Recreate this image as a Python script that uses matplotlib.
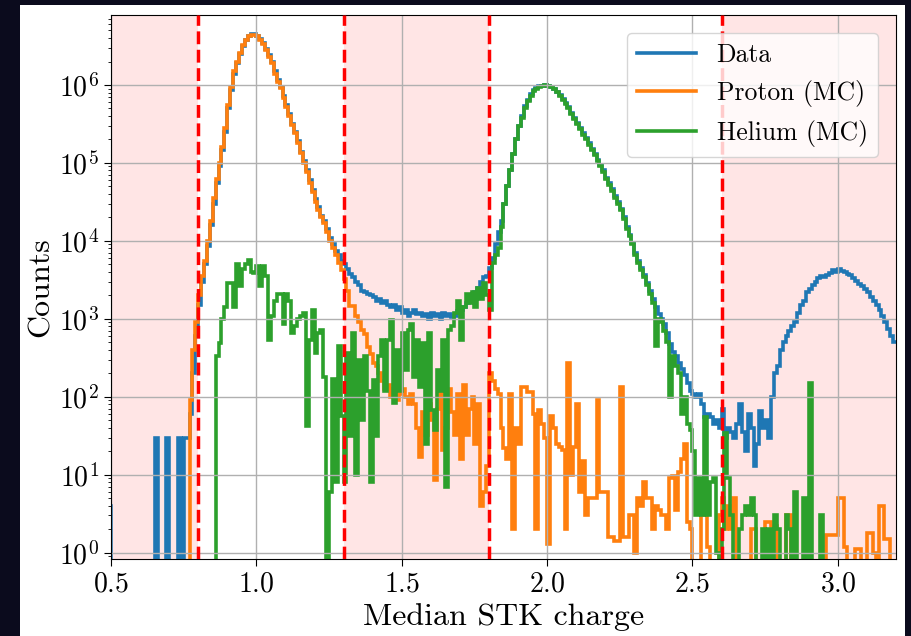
import numpy as np
import matplotlib
matplotlib.use("Agg")
import matplotlib.pyplot as plt
from matplotlib.patches import Rectangle
from matplotlib.ticker import MultipleLocator

plt.rcParams["font.family"] = "serif"
plt.rcParams["font.serif"] = ["cmr10"]
plt.rcParams["mathtext.fontset"] = "cm"
plt.rcParams["axes.formatter.use_mathtext"] = True
plt.rcParams["axes.unicode_minus"] = False

# histogram bins: width 0.01, first edge 0.49
bin_start = 0.49
bin_width = 0.01

# counts per bin, one row = 10 bins (row start edge in the comment)
data_counts = [4,                                                               # 0.49
    0, 0, 0, 0, 0, 0, 0, 0, 0, 0,                                               # 0.50
    0, 0, 0, 0, 0, 30, 0, 0, 0, 30,                                             # 0.60
    0, 0, 0, 30, 0, 30, 30, 60, 200, 600,                                       # 0.70
    1500, 3000, 5000, 8500, 1.6e4, 3.0e4, 5.5e4, 9e4, 1.45e5, 2.5e5,            # 0.80
    5e5, 8.5e5, 1.4e6, 1.9e6, 2.5e6, 3.2e6, 3.8e6, 4.2e6, 4.5e6, 4.5e6,         # 0.90
    4.3e6, 3.9e6, 3.5e6, 2.9e6, 2.4e6, 2.0e6, 1.5e6, 1.15e6, 9.5e5, 7.2e5,      # 1.00
    5.5e5, 4.2e5, 3.2e5, 2.5e5, 1.9e5, 1.4e5, 1.05e5, 8e4, 6e4, 4.5e4,          # 1.10
    3.4e4, 2.7e4, 2.1e4, 1.8e4, 1.4e4, 1.1e4, 9e3, 7.5e3, 6.5e3, 5.5e3,         # 1.20
    5e3, 4.3e3, 3.8e3, 3.4e3, 3.0e3, 2.7e3, 2.3e3, 2.2e3, 2.1e3, 2.0e3,         # 1.30
    1.9e3, 1.7e3, 1.8e3, 1.6e3, 1.7e3, 1.5e3, 1.4e3, 1.5e3, 1.3e3, 1.4e3,       # 1.40
    1.2e3, 1.3e3, 1.1e3, 1.2e3, 1.3e3, 1.15e3, 1.2e3, 1.1e3, 1.15e3, 1.0e3,     # 1.50
    1.2e3, 1.1e3, 1.15e3, 1.0e3, 1.2e3, 1.1e3, 1.15e3, 1.05e3, 1.1e3, 1.25e3,   # 1.60
    1.3e3, 1.4e3, 1.6e3, 1.8e3, 2.0e3, 2.2e3, 2.5e3, 3.0e3, 3.4e3, 3.5e3,       # 1.70
    4.5e3, 6e3, 9e3, 1.3e4, 1.8e4, 3e4, 5e4, 8e4, 1.3e5, 2e5,                   # 1.80
    3e5, 4e5, 5.3e5, 6.5e5, 7.6e5, 8.5e5, 9.2e5, 9.6e5, 9.8e5, 9.9e5,           # 1.90
    9.8e5, 9.5e5, 9e5, 8.2e5, 7.4e5, 6.6e5, 5.8e5, 5.2e5, 4.4e5, 3.8e5,         # 2.00
    3.3e5, 2.8e5, 2.4e5, 2.1e5, 1.8e5, 1.5e5, 1.3e5, 1.1e5, 9.5e4, 8e4,         # 2.10
    6.5e4, 5.5e4, 4.6e4, 3.8e4, 3.2e4, 2.6e4, 2.0e4, 1.5e4, 1.2e4, 9.5e3,       # 2.20
    7e3, 5.5e3, 4.5e3, 3.6e3, 2.9e3, 2.3e3, 1.8e3, 1.4e3, 1.15e3, 1.0e3,        # 2.30
    850, 650, 480, 380, 330, 270, 230, 190, 150, 120,                           # 2.40
    110, 100, 110, 80, 55, 60, 55, 45, 50, 40,                                  # 2.50
    70, 30, 40, 35, 30, 45, 80, 35, 20, 60,                                     # 2.60
    40, 13, 25, 65, 40, 50, 30, 100, 200, 250,                                  # 2.70
    400, 500, 600, 700, 800, 900, 1.2e3, 1.5e3, 1.7e3, 2.2e3,                   # 2.80
    2.4e3, 2.7e3, 3.0e3, 3.3e3, 3.5e3, 3.4e3, 3.7e3, 3.9e3, 4.2e3, 4.0e3,       # 2.90
    4.4e3, 4.1e3, 4.0e3, 3.8e3, 3.6e3, 3.3e3, 3.1e3, 2.8e3, 2.6e3, 2.4e3,       # 3.00
    2.2e3, 1.9e3, 1.7e3, 1.5e3, 1.3e3, 1.1e3, 900, 750, 600, 500,               # 3.10
]

proton_counts = [0,                                                             # 0.49
    0, 0, 0, 0, 0, 0, 0, 0, 0, 0,                                               # 0.50
    0, 0, 0, 0, 0, 0, 0, 0, 0, 0,                                               # 0.60
    0, 0, 0, 0, 0, 0, 0, 90, 400, 900,                                          # 0.70
    2000, 3500, 5600, 1e4, 1.8e4, 3.5e4, 6.3e4, 1e5, 1.6e5, 2.8e5,              # 0.80
    5.6e5, 9.3e5, 1.5e6, 2e6, 2.6e6, 3.3e6, 3.8e6, 4.2e6, 4.4e6, 4.4e6,         # 0.90
    4.2e6, 3.8e6, 3.4e6, 2.8e6, 2.3e6, 1.9e6, 1.4e6, 1.1e6, 9.1e5, 6.9e5,       # 1.00
    5.2e5, 4e5, 3.1e5, 2.4e5, 1.8e5, 1.35e5, 1e5, 7.6e4, 5.6e4, 4.2e4,          # 1.10
    3.2e4, 2.5e4, 2e4, 1.7e4, 1.3e4, 1e4, 8e3, 6.5e3, 5.2e3, 4.2e3,             # 1.20
    3.2e3, 2300, 1450, 1450, 1100, 900, 720, 630, 440, 350,                     # 1.30
    270, 250, 200, 160, 125, 140, 100, 125, 90, 110,                            # 1.40
    125, 100, 80, 110, 80, 40, 17, 63, 32, 80,                                  # 1.50
    50, 8.5, 70, 125, 21, 40, 125, 63, 32, 110,                                 # 1.60
    16, 140, 32, 70, 100, 25, 80, 4, 6, 13,                                     # 1.70
    200, 160, 125, 110, 40, 22, 16, 110, 2, 40,                                 # 1.80
    25, 135, 135, 115, 115, 60, 2, 68, 45, 30,                                  # 1.90
    1.3, 56, 40, 25, 23, 21, 2, 270, 10, 23,                                    # 2.00
    80, 6, 15, 3, 5, 5, 5, 90, 6, 6,                                            # 2.10
    6, 1.6, 1.6, 1.4, 1.4, 135, 1.6, 1.6, 3, 3,                                 # 2.20
    1, 5, 4, 8, 5, 5, 2, 4, 3.5, 3,                                             # 2.30
    3, 2, 9, 9.5, 3.5, 11, 16, 25, 2.5, 2,                                      # 2.40
    0, 0, 0, 3, 3, 1.2, 0, 0, 0, 3,                                             # 2.50
    5, 2, 4, 2, 5, 0, 0, 0, 0, 0,                                               # 2.60
    2, 2, 0, 0, 0, 2.5, 2.5, 2.2, 2.2, 0,                                       # 2.70
    0, 0, 3, 3, 0, 0, 0, 0, 0, 0,                                               # 2.80
    0, 0, 0, 0, 0, 0, 1.7, 1.7, 1.7, 1.7,                                       # 2.90
    5, 5, 1.2, 0, 0, 0, 1.1, 1.1, 0, 0,                                         # 3.00
    1.8, 1.8, 1, 0, 4, 4, 1.5, 1.5, 0, 0,                                       # 3.10
]

helium_counts = [0,                                                             # 0.49
    0, 0, 0, 0, 0, 0, 0, 0, 0, 0,                                               # 0.50
    0, 0, 0, 0, 0, 0, 0, 0, 0, 0,                                               # 0.60
    0, 0, 0, 0, 0, 0, 0, 0, 0, 0,                                               # 0.70
    0, 0, 0, 0, 0, 0, 330, 490, 1000, 1400,                                     # 0.80
    2900, 2900, 1400, 5100, 2600, 4300, 5100, 5700, 4000, 3900,                 # 0.90
    4700, 2600, 4700, 3500, 540, 1100, 1700, 2100, 2100, 870,                   # 1.00
    2100, 1700, 660, 800, 1000, 1100, 1200, 42, 540, 1300,                      # 1.10
    360, 660, 720, 180, 0, 6, 170, 8, 450, 56,                                  # 1.20
    8, 360, 31, 650, 10, 300, 50, 330, 120, 8,                                  # 1.30
    165, 31, 330, 540, 120, 540, 980, 83, 400, 120,                             # 1.40
    650, 220, 720, 870, 180, 540, 135, 490, 25, 650,                            # 1.50
    68, 37, 220, 120, 540, 7, 720, 800, 1200, 1700,                             # 1.60
    540, 1400, 2100, 1600, 2200, 1400, 2500, 1800, 2900, 2000,                  # 1.70
    1300, 5200, 6500, 8000, 1.5e4, 3e4, 5e4, 8e4, 1.3e5, 2e5,                   # 1.80
    3e5, 3.8e5, 5e5, 6.2e5, 7.3e5, 8.3e5, 9e5, 9.5e5, 9.8e5, 9.9e5,             # 1.90
    9.7e5, 9.4e5, 8.9e5, 8.1e5, 7.3e5, 6.5e5, 5.7e5, 5.1e5, 4.3e5, 3.7e5,       # 2.00
    3.2e5, 2.7e5, 2.3e5, 2.0e5, 1.7e5, 1.45e5, 1.25e5, 1.05e5, 9e4, 7.6e4,      # 2.10
    6.2e4, 5.2e4, 4.4e4, 3.6e4, 3.0e4, 2.5e4, 1.9e4, 1.4e4, 1.15e4, 9e3,        # 2.20
    6.5e3, 5.2e3, 4.2e3, 3.4e3, 2.7e3, 2.1e3, 1.6e3, 450, 1000, 900,            # 2.30
    700, 500, 100, 330, 250, 200, 60, 100, 45, 38,                              # 2.40
    20, 3, 9, 3, 55, 3, 8, 9, 1, 0,                                             # 2.50
    2, 34, 9, 3, 0, 0, 2, 3, 4, 3,                                              # 2.60
    5, 3, 0, 0, 2, 0, 2, 0, 3, 2,                                               # 2.70
    0, 0, 3, 2, 0, 6, 0, 0, 5, 0,                                               # 2.80
    150, 0, 0, 0, 3, 0, 0, 0, 0, 0,                                             # 2.90
    0, 0, 0, 0, 0, 0, 0, 0, 0, 0,                                               # 3.00
    0, 0, 0, 0, 0, 0, 0, 0, 0, 0,                                               # 3.10
]

labels = ["Data", "Proton (MC)", "Helium (MC)"]
colors = ["C0", "C1", "C2"]
cut_values = [0.8, 1.3, 1.8, 2.6]
excluded = [(0.5, 0.8), (1.3, 1.8), (2.6, 3.2)]

assert len(data_counts) == len(proton_counts) == len(helium_counts)
edges = bin_start + bin_width * np.arange(len(data_counts) + 1)

fig = plt.figure(figsize=(9.12, 6.36), dpi=100, facecolor="#0b0b1d")
# white card the plot sits on
card = Rectangle((20 / 912, 0), 885 / 912, 631 / 636, transform=fig.transFigure,
                 facecolor="white", edgecolor="none", zorder=-10)
fig.add_artist(card)
ax = fig.add_axes([111 / 912, 1 - 559 / 636, 785 / 912, 544 / 636])
ax.set_zorder(1)

for lo, hi in excluded:
    ax.axvspan(lo, hi, color="red", alpha=0.1, lw=0)

for counts, lab, col in zip([data_counts, proton_counts, helium_counts], labels, colors):
    ax.stairs(counts, edges, baseline=None, color=col, lw=2.6, label=lab)

for c in cut_values:
    ax.axvline(c, color="red", ls="--", lw=2.5, zorder=3)

ax.set_yscale("log")
ax.set_xlim(0.5, 3.2)
ax.set_ylim(0.83, 7.9e6)
ax.xaxis.set_major_locator(MultipleLocator(0.5))
ax.grid(True, which="major", color="#b0b0b0", lw=1)
ax.tick_params(axis="both", which="major", labelsize=20, length=5)
ax.set_xlabel("Median STK charge", fontsize=23, labelpad=4)
ax.set_ylabel("Counts", fontsize=23, labelpad=3)
leg = ax.legend(loc="upper right", fontsize=18.5, handlelength=2.3,
                borderaxespad=0.7)
for line in leg.get_lines():
    line.set_linewidth(2.6)

fig.savefig("out.png", dpi=100, facecolor=fig.get_facecolor())
